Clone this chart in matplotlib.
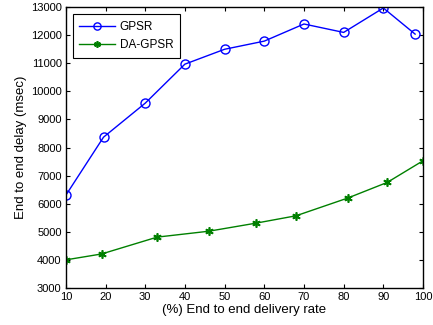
import matplotlib
matplotlib.use("Agg")
import matplotlib.pyplot as plt

gpsr_x = [10, 19.5, 30, 40, 50, 60, 70, 80, 90, 98]
gpsr_y = [6300, 8370, 9580, 10970, 11500, 11790, 12400, 12100, 12970, 12040]
da_x = [10, 19, 33, 46, 58, 68, 81, 91, 100]
da_y = [4000, 4210, 4810, 5020, 5310, 5570, 6200, 6760, 7530]
xticks = [10, 20, 30, 40, 50, 60, 70, 80, 90, 100]
yticks = list(range(3000, 13001, 1000))

plt.rcParams['font.family'] = ['Liberation Sans', 'DejaVu Sans']
fig = plt.figure(figsize=(4.33, 3.25), dpi=100)
ax = fig.add_axes([0.152, 0.114, 0.825, 0.864])
ax.plot(gpsr_x, gpsr_y, color='#0000ff', lw=1, marker='o', mfc='none', mec='#0000ff', ms=6.5, mew=1, label='GPSR')
ax.plot(da_x, da_y, color='#008000', lw=1, marker=(6, 2, 0), mfc='#008000', mec='#008000', ms=6, mew=1.2, label='DA-GPSR')
ax.set_xlim(10, 100)
ax.set_ylim(3000, 13000)
ax.set_xticks(xticks)
ax.set_yticks(yticks)
ax.tick_params(direction='in', top=True, right=True, labelsize=8, length=3, width=0.8, pad=3)
for s in ax.spines.values():
    s.set_linewidth(1)
ax.set_xlabel('(%) End to end delivery rate', fontsize=9.5, labelpad=1)
ax.set_ylabel('End to end delay (msec)', fontsize=9.5, labelpad=3)
leg = ax.legend(loc='upper left', fontsize=8.5, fancybox=False, edgecolor='black', framealpha=1,
                borderaxespad=0.6, handlelength=3.0, handletextpad=0.4, labelspacing=0.55,
                borderpad=0.55, markerscale=0.8)
leg.get_frame().set_linewidth(0.8)
fig.savefig('out.png', dpi=100)
